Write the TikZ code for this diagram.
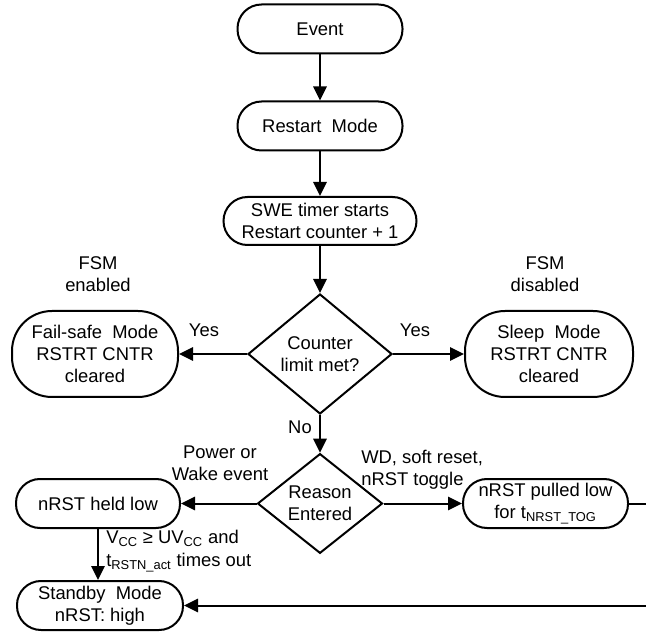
\documentclass[tikz,border=0pt]{standalone}
\usepackage{fontspec}
\setmainfont{Liberation Sans}
\usetikzlibrary{shapes.geometric,arrows.meta}
\begin{document}
\begin{tikzpicture}[x=0.75pt,y=-0.75pt,
  every node/.style={font=\fontsize{13.8pt}{16.8pt}\selectfont},
  stadium/.style={draw, line width=1.5pt, rounded corners=18pt, align=center, inner sep=0pt,
    minimum width=123.75pt, minimum height=36.75pt},
  oval/.style={draw, line width=1.5pt, rounded corners=30pt, align=center, inner sep=0pt,
    minimum width=125pt, minimum height=64.5pt},
  decision/.style={draw, diamond, line width=1.5pt, align=center, inner sep=0pt},
  lbl/.style={align=center, inner sep=0pt},
  flow/.style={line width=1.5pt, -{Triangle[length=10.5pt,width=10pt]}},
  plain/.style={line width=1.5pt}]
\useasboundingbox (0,0) rectangle (646,634);

\node[stadium] (event) at (320,29) {Event};
\node[stadium] (restart) at (320,126) {Restart\ \ Mode};
\node[stadium, minimum width=144.75pt, minimum height=36pt] (swe) at (320,221) {SWE timer starts\\Restart counter + 1};
\node[decision, minimum width=108pt, minimum height=90pt] (counter) at (320,354) {Counter\\limit met?};
\node[oval, minimum width=124.5pt] (failsafe) at (95,354) {Fail-safe\ \ Mode\\RSTRT CNTR\\cleared};
\node[oval, minimum width=126pt] (sleep) at (549,354) {Sleep\ \ Mode\\RSTRT CNTR\\cleared};
\node[decision, minimum width=93.75pt, minimum height=63pt] (reason) at (320,503.5) {Reason\\Entered};
\node[stadium, minimum width=123pt] (held) at (98,503.5) {nRST held low};
\node[stadium] (pulled) at (545.5,503.5) {nRST pulled low\\for t\textsubscript{NRST\_TOG}};
\node[stadium, minimum width=124.5pt] (standby) at (100,605.5) {Standby\ \ Mode\\nRST: high};

\coordinate (rt1) at (646,503.5);
\coordinate (rt2) at (646,605.5);

\node[lbl] (fsmen) at (98,274) {FSM\\enabled};
\node[lbl] (fsmdis) at (545,274) {FSM\\disabled};
\node[lbl] (yesl) at (204,330) {Yes};
\node[lbl] (yesr) at (415,330) {Yes};
\node[lbl] (no) at (300,427) {No};
\node[lbl] (power) at (220,463) {Power or\\Wake event};
\node[lbl, align=left, anchor=west] (wd) at (361,470) {WD, soft reset,\\nRST toggle};
\node[lbl, align=left, anchor=west] (vcc) at (106,551) {V\textsubscript{CC} ≥ UV\textsubscript{CC} and\\t\textsubscript{RSTN\_act} times out};

\draw[flow] (event) -- (restart);
\draw[flow] (restart) -- (swe);
\draw[flow] (swe) -- (counter);
\draw[flow] (counter.west) -- (failsafe.east);
\draw[flow] (counter.east) -- (sleep.west);
\draw[flow] (counter.south) -- (reason.north);
\draw[flow] (reason.west) -- (held.east);
\draw[flow] (reason.east) -- (pulled.west);
\draw[plain] (pulled.east) -- (rt1);
\draw[flow] (held.south) -- (held.south |- standby.north);
\draw[flow] (rt2) -- (standby.east);
\end{tikzpicture}
\end{document}
